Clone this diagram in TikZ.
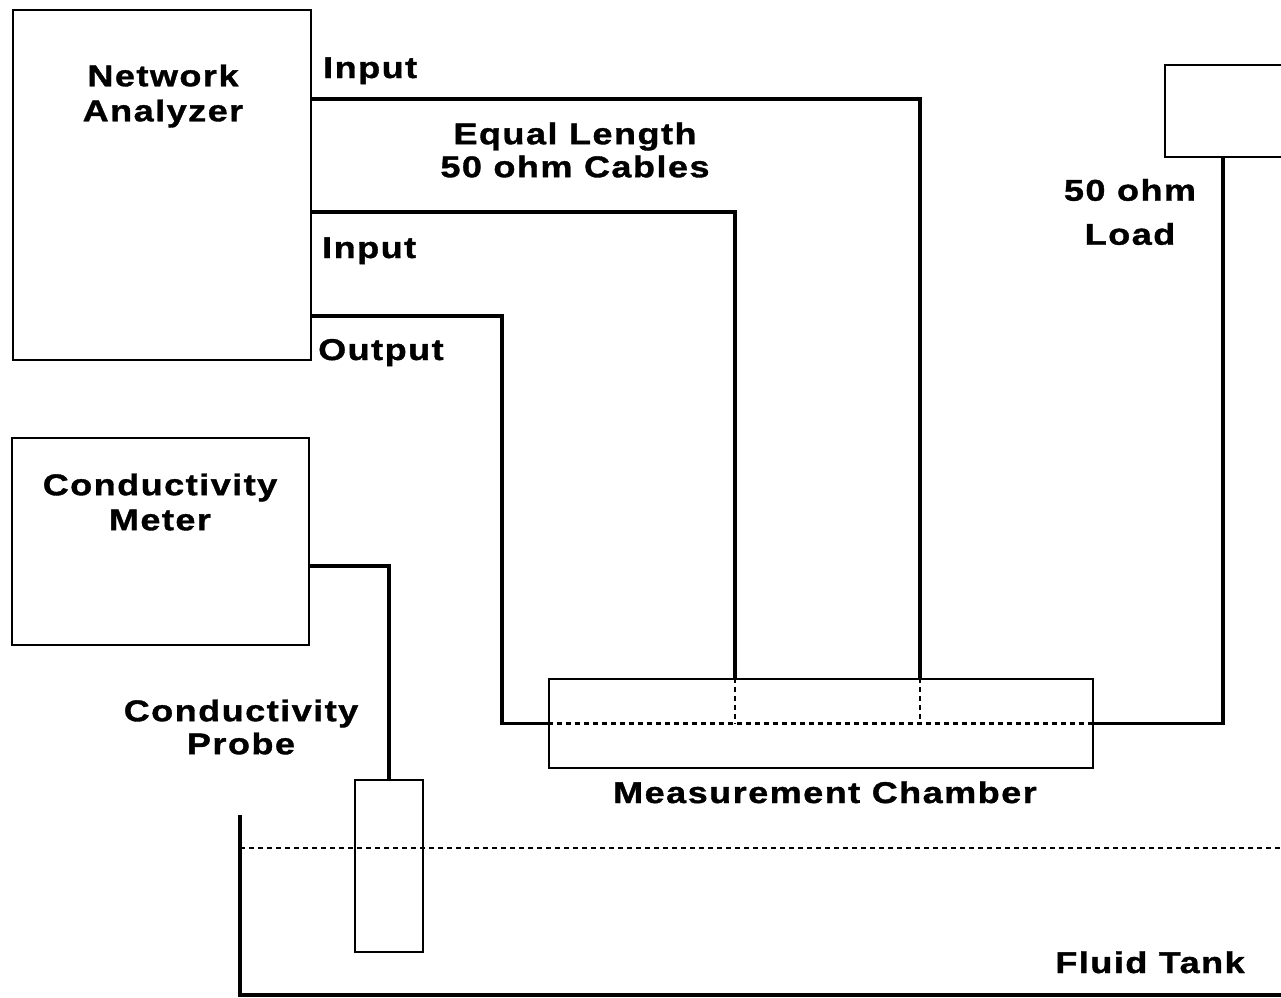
\documentclass[tikz,border=0pt]{standalone}
\usepackage{fontspec}
\setmainfont{Liberation Sans}[FakeStretch=1.2,LetterSpace=5,BoldFeatures={FakeBold=1.2}]
\usetikzlibrary{positioning}

\begin{document}
\begin{tikzpicture}[x=1pt,y=-1pt,
 box/.style={draw,line width=2.5pt,inner sep=0pt},
 lbl/.style={font=\fontsize{30}{35}\selectfont\bfseries,align=center,inner sep=0pt},
 cab/.style={line width=3.6pt},
 dsh/.style={line width=2.6pt,dash pattern=on 5pt off 4pt}]
\useasboundingbox (0,0) rectangle (1281,997);
\clip (0,0) rectangle (1281,997);
% instruments and chamber
\node[box,minimum width=298pt,minimum height=350pt] (na) at (162,185) {};
\node[box,minimum width=297pt,minimum height=207pt] (cm) at (160.5,541.5) {};
\node[box,minimum width=140pt,minimum height=92pt] (load) at (1235,111) {};
\node[box,minimum width=68pt,minimum height=172pt] (probe) at (389,866) {};
\node[box,minimum width=544pt,minimum height=89pt] (chamber) at (821,723.5) {};
% texts
\node[lbl] (natxt) at (163,96) {Network\\Analyzer};
\node[lbl] (cmtxt) at (160,502) {Conductivity\\Meter};
\node[lbl] (cabtxt) at (575,150) {Equal Length\\[-2pt]50 ohm Cables};
\node[lbl] (loadtxt) at (1130,212) {50 ohm\\[9pt]Load};
\node[lbl] (probetxt) at (241,727) {Conductivity\\[-2pt]Probe};
\node[lbl,anchor=base west] (in1) at (323,78) {Input};
\node[lbl,anchor=base west] (in2) at (322,258) {Input};
\node[lbl,anchor=base west] (out) at (318,360) {Output};
\node[lbl,anchor=base] (chtxt) at (825,803) {Measurement Chamber};
\node[lbl,anchor=base] (tanktxt) at (1150,973) {Fluid Tank};
% cable ends
\coordinate (p1) at (na.east |- 0,99);
\coordinate (p2) at (na.east |- 0,212);
\coordinate (p3) at (na.east |- 0,316);
\coordinate (t1) at (chamber.north -| 920,0);
\coordinate (t2) at (chamber.north -| 735,0);
\coordinate (pm) at (cm.east |- 0,566);
\coordinate (pl) at (load.south -| 1223,0);
% cables
\draw[cab] (p1) -| (t1);
\draw[cab] (p2) -| (t2);
\draw[cab] (p3) -| ([xshift=-46pt]chamber.west) -- (chamber.west);
\draw[cab] (chamber.east) -| (pl);
\draw[cab] (pm) -| (probe.north);
\draw[dsh] (chamber.west) -- (chamber.east);
\draw[dsh] (t1) -- (t1 |- chamber.center);
\draw[dsh] (t2) -- (t2 |- chamber.center);
% tank
\draw[line width=3.6pt] (240,815) -- (240,995) -- (1290,995);
\draw[dsh] (240,848) -- (1290,848);
\end{tikzpicture}
\end{document}
